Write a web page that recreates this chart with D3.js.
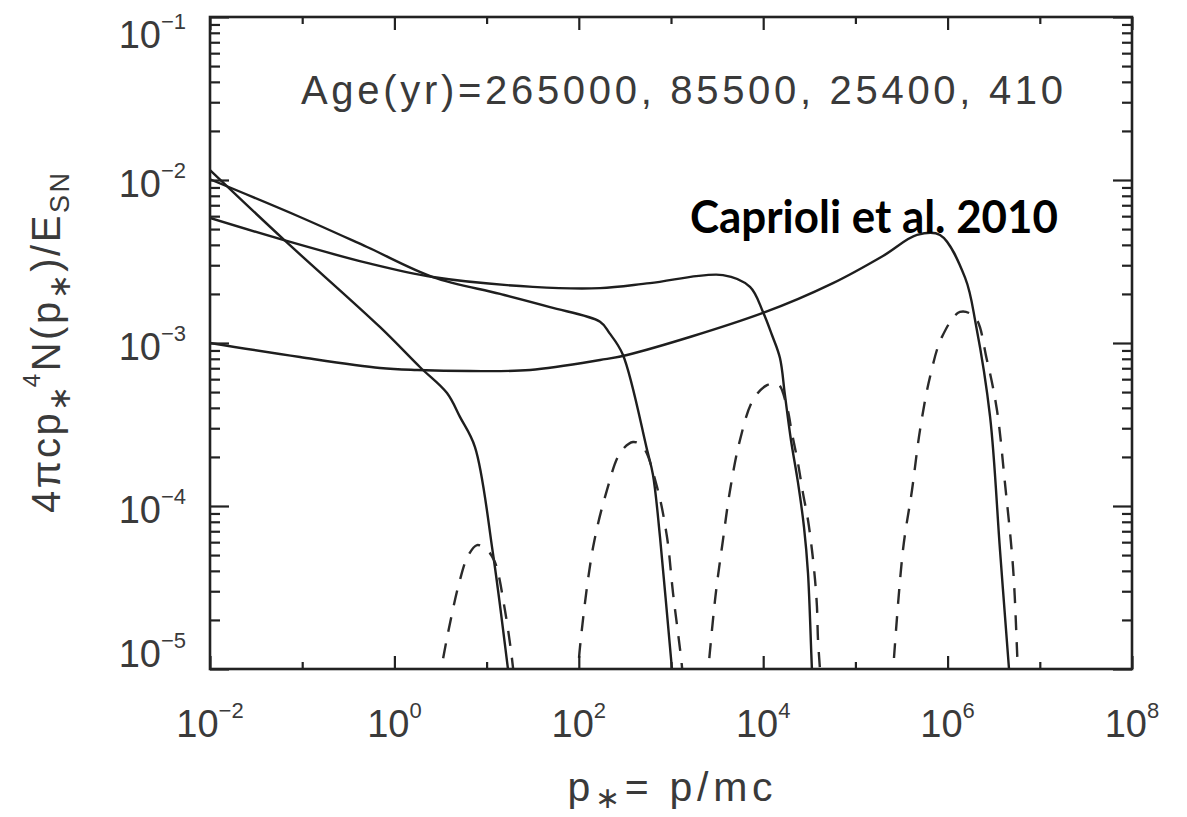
<!DOCTYPE html>
<html><head><meta charset="utf-8">
<script src="https://cdn.jsdelivr.net/npm/d3@7"></script>
<style>body{margin:0;background:#fff;} svg{display:block;}</style>
</head><body>
<svg id="c" width="1187" height="817"></svg>
<script>
// ---- data ----
const ageText = "Age(yr)=265000, 85500, 25400, 410";
const sourceText = "Caprioli et al. 2010";
const xMajorExp = [-2, 0, 2, 4, 6, 8];
const xMinorExp = [-1, 1, 3, 5, 7];
const yMajorExp = [-5, -4, -3, -2, -1];

// solid curves: total spectra at four ages (p, 4πc p^4 N / E_SN)
const solid1P = [0.01, 0.062, 0.70, 1.90, 3.72, 5.14, 7.48, 11.7, 17.1, 18.5];
const solid1F = [1.15e-2, 4.35e-3, 1.25e-3, 7.1e-4, 4.93e-4, 3.52e-4, 2.30e-4, 5.15e-5, 9.9e-6, 7e-6];

const solid2P = [0.01, 0.0946, 0.505, 2.62, 14.0, 48.7, 170, 215, 300, 550, 638, 760, 1026, 1100];
const solid2F = [1.01e-2, 5.93e-3, 3.88e-3, 2.54e-3, 2.00e-3, 1.66e-3, 1.35e-3, 1.15e-3, 8.5e-4, 2.21e-4, 1.55e-4, 6.45e-5, 9.9e-6, 7e-6];

const solid3P = [0.01, 0.062, 0.505, 2.62, 31.8, 170, 592, 3660, 7190, 9950, 12450, 15200, 17200, 20000, 23800, 27700, 30600, 33800, 35000];
const solid3F = [5.85e-3, 4.29e-3, 3.1e-3, 2.54e-3, 2.21e-3, 2.17e-3, 2.33e-3, 2.61e-3, 2.21e-3, 1.55e-3, 1.12e-3, 8.09e-4, 4.8e-4, 2.54e-4, 1.40e-4, 7.43e-5, 3.88e-5, 9.9e-6, 7e-6];

const solid4P = [0.01, 0.0946, 0.698, 1.76, 6.6, 29.6, 170, 334, 9950, 57100, 199000, 466000, 827000, 1.55e6, 2.03e6, 2.89e6, 3.70e6, 4.63e6, 4.9e6];
const solid4F = [1.0e-3, 8.2e-4, 7.03e-4, 6.83e-4, 6.73e-4, 6.83e-4, 7.86e-4, 8.44e-4, 1.53e-3, 2.33e-3, 3.42e-3, 4.60e-3, 4.60e-3, 2.51e-3, 1.29e-3, 3.52e-4, 5.37e-5, 1.01e-5, 7e-6];

// dashed curves: escaping particles
const dash1P = [3.0, 3.81, 5.14, 6.28, 7.87, 10.1, 12.3, 15.8, 19.3, 20];
const dash1F = [8e-6, 1.66e-5, 3.52e-5, 4.93e-5, 5.76e-5, 5.37e-5, 4.53e-5, 2.30e-5, 1.03e-5, 8e-6];

const dash2P = [96, 103, 143, 202, 280, 387, 497, 705, 905, 1052, 1316, 1350];
const dash2F = [8e-6, 1.36e-5, 5.6e-5, 1.25e-4, 2.11e-4, 2.47e-4, 2.30e-4, 1.31e-4, 6.45e-5, 2.92e-5, 1.03e-5, 8e-6];

const dash3P = [2450, 3030, 3660, 4370, 5600, 7750, 11000, 14500, 18100, 20500, 23800, 27000, 30600, 33800, 36500, 38300, 39300, 41300, 42000];
const dash3F = [8e-6, 2.77e-5, 6.18e-5, 1.25e-4, 2.54e-4, 4.47e-4, 5.52e-4, 5.60e-4, 4.05e-4, 2.80e-4, 1.84e-4, 1.20e-4, 8.2e-5, 5.37e-5, 3.52e-5, 2.40e-5, 1.51e-5, 9.9e-6, 8e-6];

const dash4P = [250000, 328000, 411000, 502000, 644000, 869000, 1.36e6, 1.98e6, 2.67e6, 3.43e6, 4.19e6, 5.12e6, 5.66e6, 5.85e6];
const dash4F = [8e-6, 5.37e-5, 1.25e-4, 2.92e-4, 6.18e-4, 1.09e-3, 1.55e-3, 1.44e-3, 7.87e-4, 3.88e-4, 1.38e-4, 4.23e-5, 1.31e-5, 8e-6];

const solidSeries = [[solid1P, solid1F], [solid2P, solid2F], [solid3P, solid3F], [solid4P, solid4F]];
const dashedSeries = [[dash1P, dash1F], [dash2P, dash2F], [dash3P, dash3F], [dash4P, dash4F]];

// ---- layout ----
const L = 210, R = 1132, T = 17, B = 669;
const svg = d3.select("#c");
const x = d3.scaleLog().domain([1e-2, 1e8]).range([L, R]);
const y = d3.scaleLog().domain([1e-5, 1e-1]).range([B, T]);
const ink = "#222";
const txt = "#3a3a3a";
const font = "'Liberation Sans', Arial, Helvetica, sans-serif";
const star = "\u2217";

svg.append("defs").append("clipPath").attr("id", "clip")
  .append("rect").attr("x", L).attr("y", T).attr("width", R - L).attr("height", B - T);

// curves
const line = d3.line().x(d => x(d[0])).y(d => y(d[1])).curve(d3.curveCatmullRom.alpha(0.5));
const plot = svg.append("g").attr("clip-path", "url(#clip)");
solidSeries.forEach(([P, F]) => {
  plot.append("path").datum(P.map((p, i) => [p, F[i]]))
    .attr("d", line).attr("fill", "none").attr("stroke", "#1e1e1e")
    .attr("stroke-width", 2.4).attr("stroke-linejoin", "round");
});
dashedSeries.forEach(([P, F]) => {
  plot.append("path").datum(P.map((p, i) => [p, F[i]]))
    .attr("d", line).attr("fill", "none").attr("stroke", "#2a2a2a")
    .attr("stroke-width", 2.4).attr("stroke-dasharray", "15,12");
});

// axes ticks (inward) via d3 axes
function styleAxis(g) {
  g.select(".domain").remove();
  g.selectAll(".tick line").attr("stroke", ink).attr("stroke-width", 2.2);
  g.selectAll(".tick text").remove();
}
const xMaj = xMajorExp.map(e => Math.pow(10, e));
const xMin = xMinorExp.map(e => Math.pow(10, e));
svg.append("g").attr("transform", `translate(0,${B})`)
  .call(d3.axisBottom(x).tickValues(xMaj).tickSizeInner(-13).tickSizeOuter(0)).call(styleAxis);
svg.append("g").attr("transform", `translate(0,${B})`)
  .call(d3.axisBottom(x).tickValues(xMin).tickSizeInner(-7).tickSizeOuter(0)).call(styleAxis);
svg.append("g").attr("transform", `translate(0,${T})`)
  .call(d3.axisTop(x).tickValues(xMaj).tickSizeInner(-13).tickSizeOuter(0)).call(styleAxis);
svg.append("g").attr("transform", `translate(0,${T})`)
  .call(d3.axisTop(x).tickValues(xMin).tickSizeInner(-7).tickSizeOuter(0)).call(styleAxis);

const yMaj = yMajorExp.map(e => Math.pow(10, e));
const yMin = [];
yMajorExp.slice(0, -1).forEach(e => { for (let k = 2; k <= 9; k++) yMin.push(k * Math.pow(10, e)); });
svg.append("g").attr("transform", `translate(${L},0)`)
  .call(d3.axisLeft(y).tickValues(yMaj).tickSizeInner(-19).tickSizeOuter(0)).call(styleAxis);
svg.append("g").attr("transform", `translate(${L},0)`)
  .call(d3.axisLeft(y).tickValues(yMin).tickSizeInner(-10).tickSizeOuter(0)).call(styleAxis);
svg.append("g").attr("transform", `translate(${R},0)`)
  .call(d3.axisRight(y).tickValues(yMaj).tickSizeInner(-19).tickSizeOuter(0)).call(styleAxis);
svg.append("g").attr("transform", `translate(${R},0)`)
  .call(d3.axisRight(y).tickValues(yMin).tickSizeInner(-10).tickSizeOuter(0)).call(styleAxis);

// frame
svg.append("rect").attr("x", L).attr("y", T).attr("width", R - L).attr("height", B - T)
  .attr("fill", "none").attr("stroke", ink).attr("stroke-width", 2.6);

// tick labels 10^n
function powLabel(sel, e) {
  sel.append("tspan").text("10");
  sel.append("tspan").attr("font-size", 22).attr("dy", -19).text(e < 0 ? "\u2212" + (-e) : String(e));
}
xMajorExp.forEach(e => {
  const t = svg.append("text").attr("x", x(Math.pow(10, e))).attr("y", 737)
    .attr("text-anchor", "middle").attr("font-family", font).attr("font-size", 38).attr("fill", txt);
  powLabel(t, e);
});
yMajorExp.forEach(e => {
  const yy = Math.max(48, Math.min(667, y(Math.pow(10, e)) + 17));
  const t = svg.append("text").attr("x", 186).attr("y", yy)
    .attr("text-anchor", "end").attr("font-family", font).attr("font-size", 38).attr("fill", txt);
  powLabel(t, e);
});

// age annotation
svg.append("text").attr("x", 301).attr("y", 104).attr("font-family", font)
  .attr("font-size", 40).attr("fill", txt).attr("textLength", 762).attr("lengthAdjust", "spacing")
  .text(ageText);

// source annotation
svg.append("text").attr("x", 690).attr("y", 233).attr("font-family", "Lato, 'Open Sans', sans-serif")
  .attr("font-weight", "bold").attr("font-size", 45).attr("fill", "#000")
  .attr("textLength", 368).attr("lengthAdjust", "spacingAndGlyphs").text(sourceText);

// x title: p* = p/mc
const xt = svg.append("text").attr("x", 670).attr("y", 801).attr("text-anchor", "middle")
  .attr("font-family", font).attr("font-size", 41).attr("fill", txt)
  .attr("textLength", 205).attr("lengthAdjust", "spacing");
xt.append("tspan").text("p");
xt.append("tspan").attr("font-size", 30).attr("dy", 7).text(star);
xt.append("tspan").attr("dy", -7).text("= p/mc");

// y title: 4πc p*^4 N(p*)/E_SN
const yt = svg.append("text").attr("transform", "translate(60,343) rotate(-90)")
  .attr("text-anchor", "middle").attr("font-family", font).attr("font-size", 40).attr("fill", txt)
  .attr("textLength", 340).attr("lengthAdjust", "spacing");
yt.append("tspan").text("4\u03c0cp");
yt.append("tspan").attr("font-size", 30).attr("dy", 10).text(star);
yt.append("tspan").attr("font-size", 24).attr("dy", -30).attr("dx", -4).text("4");
yt.append("tspan").attr("dy", 20).text("N(p");
yt.append("tspan").attr("font-size", 30).attr("dy", 10).text(star);
yt.append("tspan").attr("dy", -10).text(")/E");
yt.append("tspan").attr("font-size", 27).attr("dy", 9).text("SN");
</script>
</body></html>
